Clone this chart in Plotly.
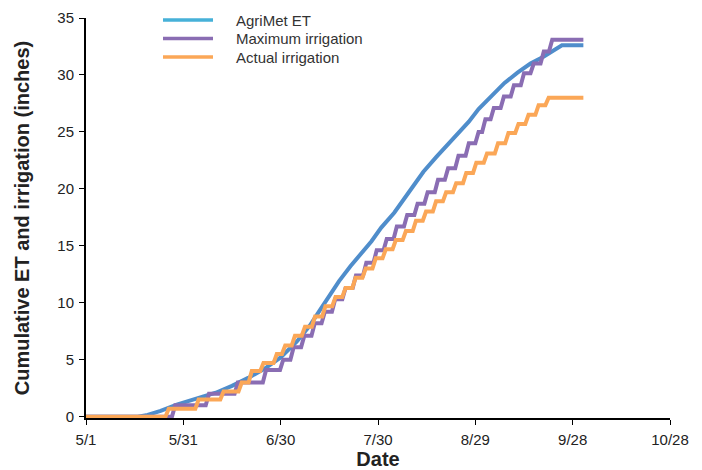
import plotly.graph_objects as go

# Days since May 1
tick_days = [0, 30, 60, 90, 120, 150, 180]
tick_labels = ["5/1", "5/31", "6/30", "7/30", "8/29", "9/28", "10/28"]
y_ticks = [0, 5, 10, 15, 20, 25, 30, 35]

et_days = [0, 10, 16, 19, 23, 28, 35, 40, 45, 50, 55, 60, 65, 69, 72, 75, 78, 81.5, 85, 88, 91,
           95, 100, 104, 108, 111, 114, 118, 121, 125, 129, 133, 137, 141, 144, 146.7, 153.3]
et_vals = [0, 0, 0, 0.15, 0.5, 1.05, 1.65, 2.1, 2.7, 3.4, 4.2, 5.2, 6.6, 8.0, 9.3, 10.6, 11.9, 13.2,
           14.4, 15.4, 16.6, 17.9, 19.9, 21.5, 22.8, 23.7, 24.6, 25.9, 27.0, 28.2, 29.3, 30.2, 31.0,
           31.6, 32.1, 32.6, 32.6]

# irrigation events: day of event and cumulative total after it
max_days = [0, 27.5, 37.9, 46.8, 55.5, 60.8, 64.0, 67.3, 70.5, 73.6, 76.8, 80.0, 83.2, 86.4, 89.6,
            92.7, 95.8, 99.0, 102.2, 105.3, 108.5, 111.6, 114.8, 118.0, 121.0, 123.1, 125.7, 128.8,
            131.9, 135.0, 138.0, 141.1, 143.7, 153.3]
max_vals = [0, 1.0, 2.0, 3.0, 4.1, 5.0, 6.1, 7.1, 8.2, 9.2, 10.3, 11.3, 12.4, 13.5, 14.6, 15.6,
            16.7, 17.7, 18.7, 19.7, 20.8, 21.8, 22.9, 24.0, 25.0, 26.1, 27.1, 28.1, 29.1, 30.15,
            31.0, 32.05, 33.1, 33.1]

act_days = [0, 25.5, 34.7, 42.4, 48.0, 51.1, 54.7, 58.8, 61.4, 64.4, 67.5, 70.6, 73.8, 76.9, 80.0,
            83.1, 86.2, 89.3, 92.4, 95.5, 98.6, 101.7, 104.8, 107.9, 111.0, 114.1, 117.2, 120.3,
            123.6, 127.0, 130.2, 133.3, 136.4, 139.5, 142.6, 153.3]
act_vals = [0, 0.7, 1.5, 2.2, 3.0, 4.0, 4.7, 5.5, 6.25, 7.1, 7.9, 8.8, 9.7, 10.5, 11.3, 12.2, 13.0,
            13.9, 14.7, 15.5, 16.3, 17.2, 18.0, 18.9, 19.7, 20.5, 21.4, 22.3, 23.1, 24.0, 24.9,
            25.7, 26.5, 27.35, 28.0, 28.0]

legend_names = ["AgriMet ET", "Maximum irrigation", "Actual irrigation"]

ET_LINE = "#4f8dcb"
ET_LEG = "#46b1d8"
MAX_C = "#8a6db3"
ACT_C = "#fba757"


def ramp_steps(days, vals, ramp=1.0):
    """Daily cumulative series: each event is reached over one day."""
    xs, ys = [days[0]], [vals[0]]
    for i in range(1, len(days)):
        if vals[i] != vals[i - 1]:
            xs += [days[i] - ramp, days[i]]
            ys += [vals[i - 1], vals[i]]
        else:
            xs.append(days[i])
            ys.append(vals[i])
    return xs, ys


mx, my = ramp_steps(max_days, max_vals)
ax, ay = ramp_steps(act_days, act_vals)

fig = go.Figure()
fig.add_trace(go.Scatter(x=et_days, y=et_vals, mode="lines", line=dict(color=ET_LINE, width=4),
                         name=legend_names[0], showlegend=False))
fig.add_trace(go.Scatter(x=mx, y=my, mode="lines", line=dict(color=MAX_C, width=4),
                         name=legend_names[1], showlegend=False))
fig.add_trace(go.Scatter(x=ax, y=ay, mode="lines", line=dict(color=ACT_C, width=4),
                         name=legend_names[2], showlegend=False))

# legend drawn in the top-left corner of the plot
L, R, T, B = 86, 32, 18, 52
PW, PH = 702 - L - R, 470 - T - B


def px(xp):
    return (xp - L) / PW


def py(yp):
    return (470 - B - yp) / PH


leg_rows = [20, 38.5, 57]
leg_cols = [ET_LEG, MAX_C, ACT_C]
for name, yrow, col in zip(legend_names, leg_rows, leg_cols):
    fig.add_shape(type="line", xref="paper", yref="paper", x0=px(163), x1=px(213),
                  y0=py(yrow), y1=py(yrow), line=dict(color=col, width=3.5))
    fig.add_annotation(xref="paper", yref="paper", x=px(234), y=py(yrow), text=name,
                       showarrow=False, xanchor="left", yanchor="middle",
                       font=dict(size=15, color="#333"))

fig.update_layout(
    width=702, height=470,
    margin=dict(l=L, r=R, t=T, b=B),
    paper_bgcolor="white", plot_bgcolor="white",
    font=dict(family="Liberation Sans, Arial, sans-serif", size=14, color="#222"),
    showlegend=False,
    xaxis=dict(range=[0, 180], tickvals=tick_days, ticktext=tick_labels, showgrid=False,
               zeroline=False, showline=True, linecolor="black", linewidth=2,
               ticks="outside", ticklen=5, tickcolor="black", tickwidth=1, automargin=False,
               ticklabelstandoff=2,
               tickfont=dict(size=15, color="#222"),
               title=dict(text="<b>Date</b>", font=dict(size=20, color="#222"), standoff=12)),
    yaxis=dict(range=[-0.12, 35], tickvals=y_ticks, showgrid=False,
               zeroline=False, showline=True, linecolor="black", linewidth=2,
               ticks="outside", ticklen=5, tickcolor="black", tickwidth=1, automargin=False,
               ticklabelstandoff=2,
               tickfont=dict(size=15, color="#222"),
               title=dict(text="<b>Cumulative ET and irrigation (inches)</b>",
                          font=dict(size=20, color="#222"), standoff=22)),
)

fig.write_html("out.html", config={"displayModeBar": False},
               post_script="document.body.style.margin='0px';document.body.style.padding='0px';")
